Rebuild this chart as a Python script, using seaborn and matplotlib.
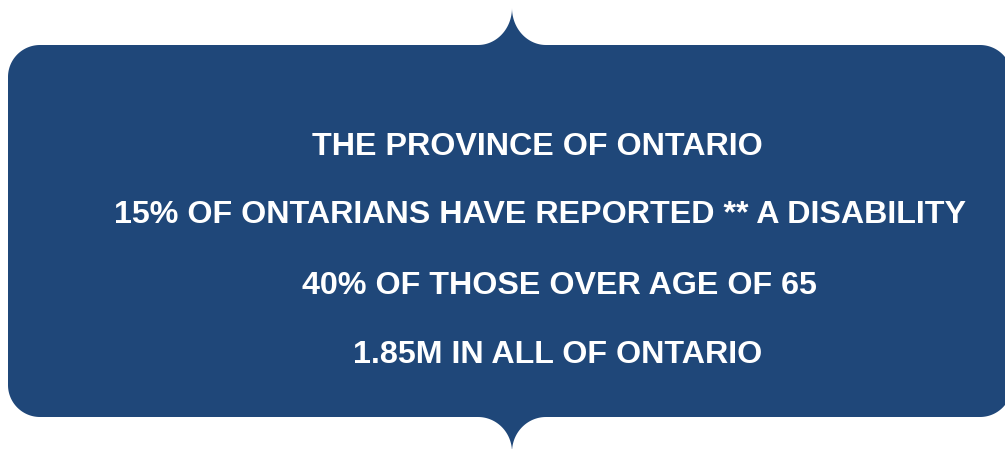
import numpy as np
import matplotlib
matplotlib.use("Agg")
import matplotlib.pyplot as plt
import seaborn as sns

# Text content of the callout box
lines = [
    "THE PROVINCE OF ONTARIO",
    "15% OF ONTARIANS HAVE REPORTED ** A DISABILITY",
    "40% OF THOSE OVER AGE OF 65",
    "1.85M IN ALL OF ONTARIO",
]
line_x = [537, 540, 559, 558]
line_y = [155, 223, 294, 363]

BOX_COLOR = "#1F4779"

sns.set_theme(style="white")
plt.rcParams["font.family"] = ["Liberation Sans", "DejaVu Sans"]

W, H = 1005, 449


def arc(cx, cy, rx, ry, a0, a1, n=40):
    t = np.radians(np.linspace(a0, a1, n))
    return np.column_stack([cx + rx * np.cos(t), cy + ry * np.sin(t)])


def callout_outline(x0=8, x1=1012, y0=45, y1=417, r=32,
                    nx=512, nw=34, tip_top=8, tip_bot=452):
    # y grows downward (image coordinates)
    pts = []
    pts.append(arc(x0 + r, y0 + r, r, r, 180, 270))
    # top notch: two concave arcs meeting at a cusp
    pts.append(arc(nx - nw, tip_top, nw, y0 - tip_top, 90, 0))
    pts.append(arc(nx + nw, tip_top, nw, y0 - tip_top, 180, 90))
    pts.append(arc(x1 - r, y0 + r, r, r, 270, 360))
    pts.append(arc(x1 - r, y1 - r, r, r, 0, 90))
    # bottom notch
    pts.append(arc(nx + nw, tip_bot, nw, tip_bot - y1, 270, 180))
    pts.append(arc(nx - nw, tip_bot, nw, tip_bot - y1, 360, 270))
    pts.append(arc(x0 + r, y1 - r, r, r, 90, 180))
    return np.vstack(pts)


fig = plt.figure(figsize=(W / 100, H / 100), dpi=100)
ax = fig.add_axes([0, 0, 1, 1])
ax.set_xlim(0, W)
ax.set_ylim(H, 0)
ax.axis("off")

outline = callout_outline()
ax.fill(outline[:, 0], outline[:, 1], color=BOX_COLOR, lw=0)

for txt, x, y in zip(lines, line_x, line_y):
    ax.text(x, y, txt, color="white", fontsize=23.2, fontweight="bold",
            ha="center", va="baseline")

fig.savefig("out.png", dpi=100, facecolor="white")
plt.close(fig)
